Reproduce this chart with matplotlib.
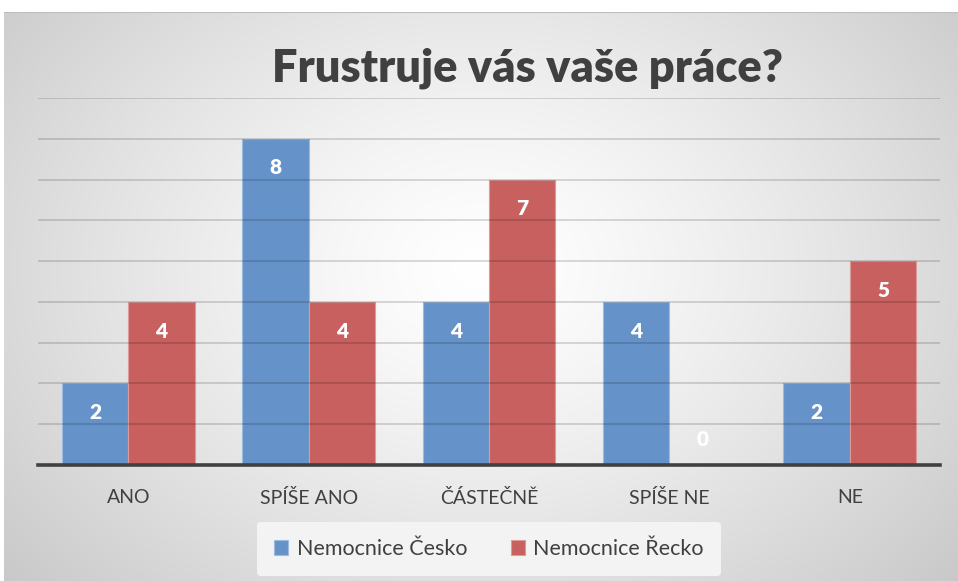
import numpy as np
import matplotlib
matplotlib.use("Agg")
import matplotlib.pyplot as plt

# Data
categories = ["ANO", "SPÍŠE ANO", "ČÁSTEČNĚ", "SPÍŠE NE", "NE"]
cesko = [2, 8, 4, 4, 2]
recko = [4, 4, 7, 0, 5]
series_names = ["Nemocnice Česko", "Nemocnice Řecko"]

plt.rcParams['font.family'] = ['Lato', 'DejaVu Sans']

W, H = 958, 581
fig = plt.figure(figsize=(W / 100, H / 100), dpi=100)
fig.patch.set_facecolor("white")

# radial gradient background (white centre, grey edges)
bg = fig.add_axes([4 / W, 0, (W - 4) / W, (H - 12) / H], zorder=0)
gx, gy = np.meshgrid(np.linspace(0, 1, 400), np.linspace(0, 1, 240))
d = np.sqrt(((gx - 0.5) / 0.75) ** 2 + ((gy - 0.55) / 0.95) ** 2)
shade = 1.0 - 0.25 * np.clip(d, 0, 1) ** 1.3
bg.imshow(np.dstack([shade, shade, shade]), extent=[0, 1, 0, 1], aspect="auto", origin="lower")
bg.axhline(1, color="#bdbdbd", lw=1.5)
bg.axis("off")

ax = fig.add_axes([38 / W, (H - 465) / H, (940 - 38) / W, (465 - 98) / H], zorder=1)
ax.patch.set_alpha(0)

x = np.arange(len(categories))
w = 0.368
blue = "#6592c8"
red = "#c7605f"
b1 = ax.bar(x - w / 2, cesko, w, color=blue, edgecolor="#9dbbe0", lw=0.8, zorder=2, label=series_names[0])
b2 = ax.bar(x + w / 2, recko, w, color=red, edgecolor="#dc9a99", lw=0.8, zorder=2, label=series_names[1])

for bars, vals in ((b1, cesko), (b2, recko)):
    for rect, v in zip(bars, vals):
        cx = rect.get_x() + rect.get_width() / 2
        off = -21 if v > 0 else 18
        ax.annotate(str(v), (cx, v), xytext=(0, off), textcoords="offset points",
                    ha="center", va="center", color="white", fontsize=15,
                    fontweight="heavy", zorder=4)

ax.set_xlim(-0.5, len(categories) - 0.5)
ax.set_ylim(0, 9)
ax.set_yticks(range(1, 10))
ax.yaxis.grid(True, color="black", lw=1.2, zorder=3, alpha=0.17)
ax.set_axisbelow(False)
ax.tick_params(axis="y", left=False, labelleft=False)
ax.tick_params(axis="x", bottom=False, labelsize=14, labelcolor="#404040", pad=14)
ax.set_xticks(x)
ax.set_xticklabels(categories)
for s in ["top", "right", "left"]:
    ax.spines[s].set_visible(False)
ax.spines["bottom"].set_color("#404040")
ax.spines["bottom"].set_linewidth(2.6)
ax.spines["bottom"].set_zorder(5)

fig.text(527 / W, 1 - 68 / H, "Frustruje vás vaše práce?", ha="center", va="center",
         fontsize=32.5, fontweight="heavy", color="#404040")

leg = fig.legend(handles=[b1, b2], loc="center", bbox_to_anchor=(489 / W, 1 - 549 / H),
                 ncol=2, frameon=True, fontsize=15.5, handlelength=0.65, handleheight=0.65,
                 columnspacing=2.0, handletextpad=0.4, borderpad=0.8)
leg.get_frame().set_facecolor("#f3f3f3")
leg.get_frame().set_edgecolor("none")
leg.get_frame().set_alpha(1)
for t in leg.get_texts():
    t.set_color("#404040")

fig.savefig("out.png", dpi=100)
